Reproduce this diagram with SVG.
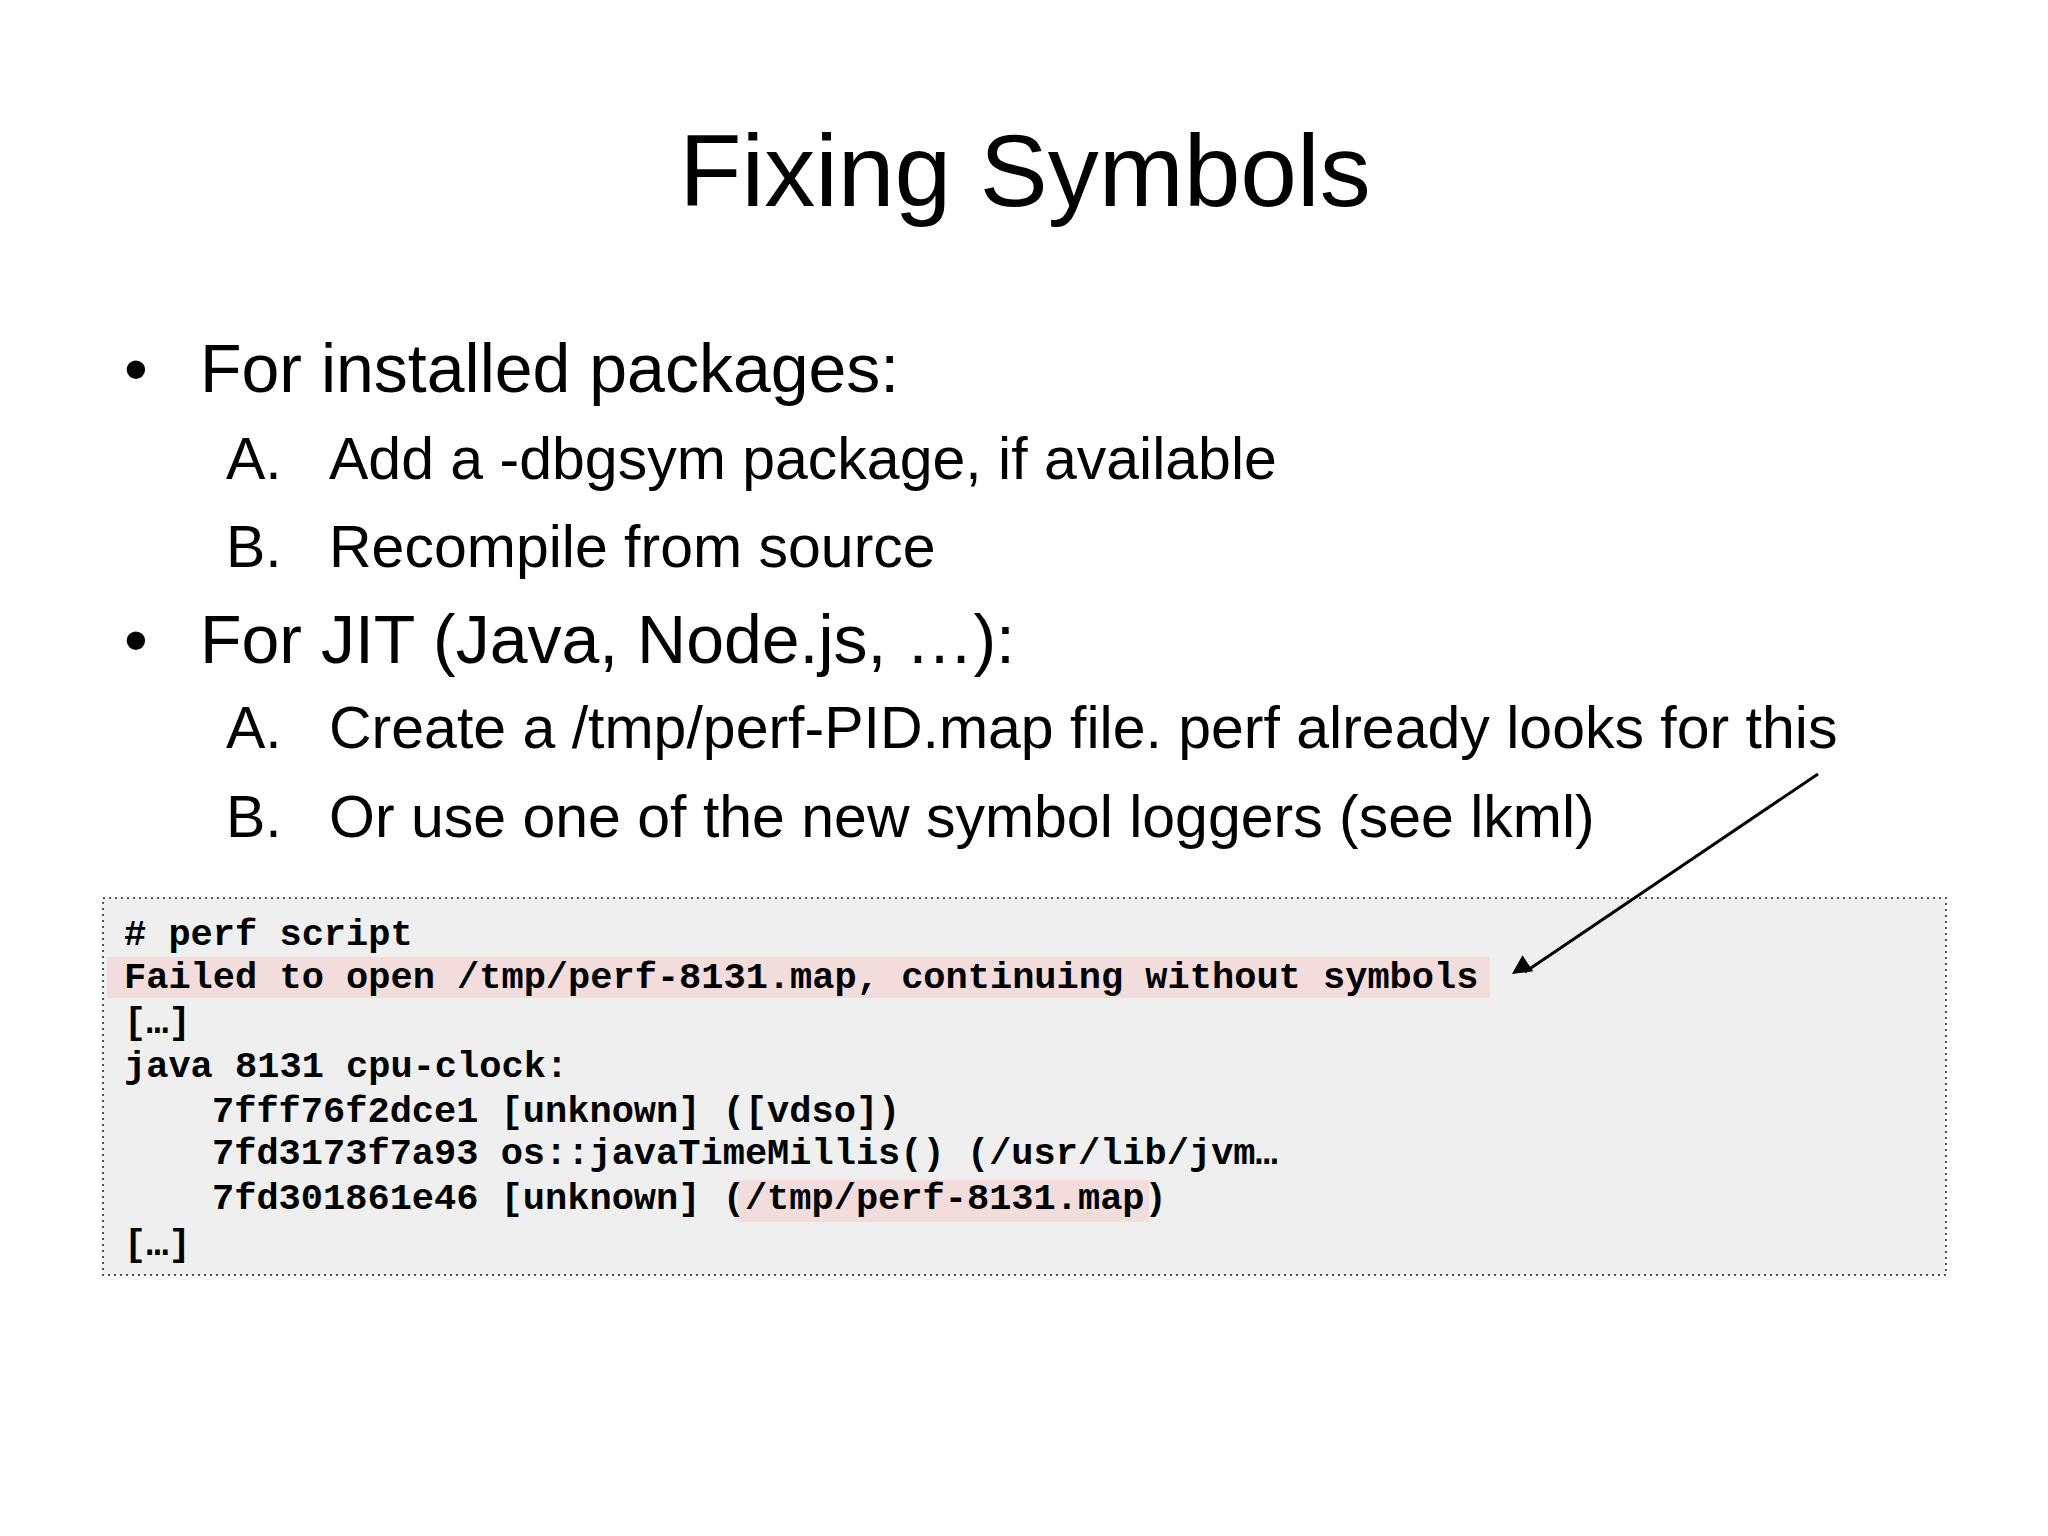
<svg xmlns="http://www.w3.org/2000/svg" width="2048" height="1536" viewBox="0 0 2048 1536">
<defs>
<style>
.t{font-family:"Liberation Sans",Arial,sans-serif;fill:#000}
.b{font-size:68px}
.s{font-size:59px}
.c{font-family:"Liberation Mono","Courier New",monospace;font-weight:bold;font-size:37px;fill:#000;white-space:pre}
</style>
<marker id="ah" viewBox="0 0 10 10" refX="9" refY="5" markerWidth="8" markerHeight="8" orient="auto" markerUnits="userSpaceOnUse" overflow="visible"><path d="M0,0 L10,5 L0,10 z" transform="scale(2.4)" fill="#000"/></marker>
</defs>
<rect width="2048" height="1536" fill="#fff"/>
<text class="t" x="1025" y="206" font-size="102" text-anchor="middle">Fixing Symbols</text>
<g id="bullets">
<text class="t b" x="124" y="392">•</text><text class="t b" x="200" y="392">For installed packages:</text>
<text class="t s" x="226" y="479">A.</text><text class="t s" x="329" y="479">Add a -dbgsym package, if available</text>
<text class="t s" x="226" y="567">B.</text><text class="t s" x="329" y="567">Recompile from source</text>
<text class="t b" x="124" y="663">•</text><text class="t b" x="200" y="663">For JIT (Java, Node.js, …):</text>
<text class="t s" x="226" y="748">A.</text><text class="t s" x="329" y="748">Create a /tmp/perf-PID.map file. perf already looks for this</text>
<text class="t s" x="226" y="837">B.</text><text class="t s" x="329" y="837">Or use one of the new symbol loggers (see lkml)</text>
</g>
<g id="codebox">
<rect x="103" y="898" width="1843" height="377" fill="#efefef" stroke="#555" stroke-width="2" stroke-dasharray="2,4"/>
<rect x="107" y="957" width="1383" height="41" fill="#f3dcdc"/>
<rect x="738" y="1180" width="411" height="42" fill="#f3dcdc"/>
<text class="c" x="124" y="945"># perf script</text>
<text class="c" x="124" y="988">Failed to open /tmp/perf-8131.map, continuing without symbols</text>
<text class="c" x="124" y="1033">[…]</text>
<text class="c" x="124" y="1077">java 8131 cpu-clock:</text>
<text class="c" x="212" y="1122">7fff76f2dce1 [unknown] ([vdso])</text>
<text class="c" x="212" y="1164">7fd3173f7a93 os::javaTimeMillis() (/usr/lib/jvm…</text>
<text class="c" x="212" y="1209">7fd301861e46 [unknown] (/tmp/perf-8131.map)</text>
<text class="c" x="124" y="1255">[…]</text>
</g>
<g id="connectors">
<line x1="1818" y1="774" x2="1525" y2="972" stroke="#000" stroke-width="3" marker-end="url(#ah)"/>
</g>
</svg>
